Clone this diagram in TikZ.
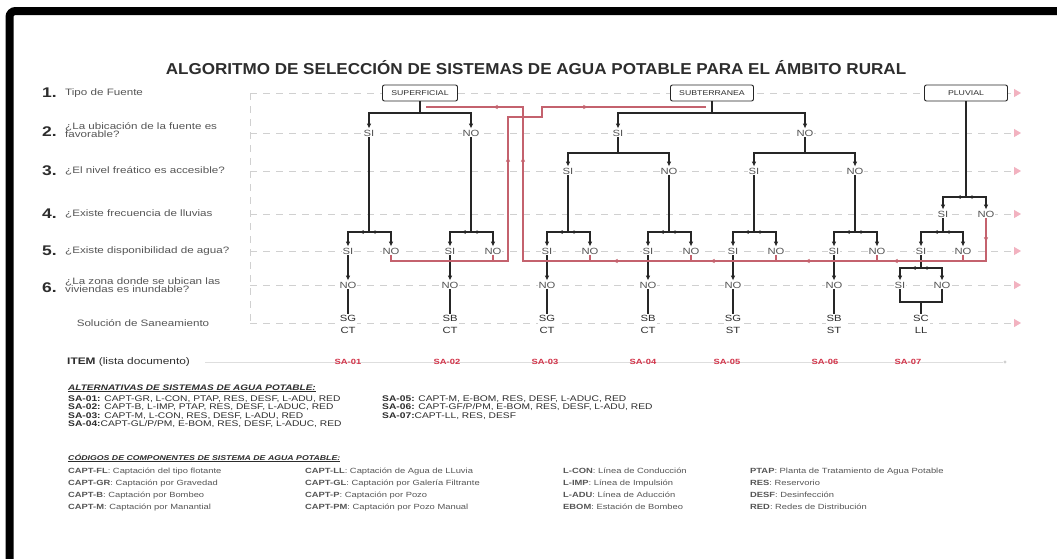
\documentclass[tikz,border=0pt]{standalone}
\usepackage{fontspec}
\setmainfont[FakeStretch=1.25]{Liberation Sans}
\newfontfamily\titlefont[FakeStretch=1.08]{Liberation Sans}
\usetikzlibrary{arrows.meta,decorations.markings}

\definecolor{guidegray}{RGB}{208,208,208}
\definecolor{guidepink}{RGB}{242,178,192}
\definecolor{loopred}{RGB}{196,98,110}
\definecolor{itemred}{RGB}{210,50,72}
\definecolor{txtdark}{RGB}{45,45,45}
\definecolor{txtsoft}{RGB}{85,85,85}

\tikzset{
  guide/.style={guidegray, line width=0.9pt, dash pattern=on 7pt off 6pt},
  guidearrow/.style={guide, -{Triangle[length=7pt,width=8pt,color=guidepink]}},
  wire/.style={black!85, line width=1.25pt},
  flow/.style={wire, -{Latex[length=5pt,width=4.5pt]}},
  midarr/.style={postaction={decorate}, decoration={markings, mark=at position 10pt with {\arrow{Latex[length=4.5pt,width=4pt]}}}},
  redloop/.style={loopred, line width=1.1pt},
  ramarks/.style={postaction={decorate}, decoration={markings,
      mark=at position 227pt with {\arrow{Latex[length=5pt,width=4.5pt]}},
      mark=at position 357pt with {\arrow{Latex[length=5pt,width=4.5pt]}}}},
  rbmarks/.style={postaction={decorate}, decoration={markings,
      mark=at position 24pt with {\arrow{Latex[length=5pt,width=4.5pt]}},
      mark=at position 136pt with {\arrow{Latex[length=5pt,width=4.5pt]}},
      mark=at position 224pt with {\arrow{Latex[length=5pt,width=4.5pt]}},
      mark=at position 319pt with {\arrow{Latex[length=5pt,width=4.5pt]}},
      mark=at position 416pt with {\arrow{Latex[length=5pt,width=4.5pt]}},
      mark=at position 610pt with {\arrow{Latex[length=5pt,width=4.5pt]}},
      mark=at position 690pt with {\arrow{Latex[length=5pt,width=4.5pt]}}}},
  fuente/.style={draw=black!85, line width=0.9pt, fill=white, rounded corners=2pt, minimum height=16pt, inner sep=1pt, font=\fontsize{7}{8}\selectfont, text=txtdark},
  opt/.style={fill=white, inner sep=1pt, font=\fontsize{9}{10}\selectfont, text=txtsoft},
  sol/.style={fill=white, inner sep=1pt, align=center, font=\fontsize{9}{12}\selectfont, text=txtdark},
  itemlbl/.style={font=\fontsize{7.5}{8}\selectfont\bfseries, text=itemred},
  num/.style={anchor=west, inner sep=0pt, font=\fontsize{14}{14}\selectfont\bfseries, text=txtdark},
  quest/.style={anchor=west, inner sep=0pt, align=left, font=\fontsize{9.3}{8.5}\selectfont, text=txtsoft},
  alttxt/.style={anchor=base west, inner sep=0pt, font=\fontsize{8.2}{9}\selectfont, text=txtdark},
  codetxt/.style={anchor=base west, inner sep=0pt, font=\fontsize{7.5}{9}\selectfont, text=txtsoft},
}

\begin{document}
\begin{tikzpicture}[x=1pt,y=-1pt]
  \pgfmathsetmacro{\rA}{93}
  \pgfmathsetmacro{\rB}{133}
  \pgfmathsetmacro{\rC}{171}
  \pgfmathsetmacro{\rD}{214}
  \pgfmathsetmacro{\rE}{251}
  \pgfmathsetmacro{\rF}{285}
  \pgfmathsetmacro{\rS}{323}

  \useasboundingbox (0,0) rectangle (1057,558);
  \fill[white] (0,0) rectangle (1057,558);
  \draw[line width=8pt, rounded corners=6pt] (9.5,600) -- (9.5,11) -- (1100,11);

  \node[font=\titlefont\fontsize{15.8}{16}\selectfont\bfseries, text=txtdark] (title) at (536,68)
    {ALGORITMO DE SELECCIÓN DE SISTEMAS DE AGUA POTABLE PARA EL ÁMBITO RURAL};

  % guide rows
  \foreach \y in {\rA,\rB,\rC,\rD,\rE,\rF,\rS}{
    \draw[guidearrow] (250,\y) -- (1021,\y);
  }
  \draw[guide] (250,\rA) -- (250,\rS);

  % questions
  \node[num] (n1) at (42,\rA) {1.};
  \node[quest] (q1) at (65,\rA) {Tipo de Fuente};
  \node[num] (n2) at (42,132) {2.};
  \node[quest] (q2) at (65,130) {¿La ubicación de la fuente es\\favorable?};
  \node[num] (n3) at (42,\rC) {3.};
  \node[quest] (q3) at (65,\rC) {¿El nivel freático es accesible?};
  \node[num] (n4) at (42,\rD) {4.};
  \node[quest] (q4) at (65,\rD) {¿Existe frecuencia de lluvias};
  \node[num] (n5) at (42,\rE) {5.};
  \node[quest] (q5) at (65,\rE) {¿Existe disponibilidad de agua?};
  \node[num] (n6) at (42,288) {6.};
  \node[quest] (q6) at (65,285) {¿La zona donde se ubican las\\viviendas es inundable?};
  \node[quest, anchor=center] (qs) at (143,\rS) {Solución de Saneamiento};

  % sources
  \node[fuente, minimum width=75pt] (sup) at (420,\rA) {SUPERFICIAL};
  \node[fuente, minimum width=83pt] (sub) at (712,\rA) {SUBTERRANEA};
  \node[fuente, minimum width=83pt] (pluv) at (966,\rA) {PLUVIAL};

  \node[opt] (s2si) at (369,\rB) {SI};
  \node[opt] (s2no) at (471,\rB) {NO};
  \node[opt] (t2si) at (618,\rB) {SI};
  \node[opt] (t2no) at (805,\rB) {NO};
  \node[opt] (t3si) at (568,\rC) {SI};
  \node[opt] (t3no) at (669,\rC) {NO};
  \node[opt] (u3si) at (754,\rC) {SI};
  \node[opt] (u3no) at (855,\rC) {NO};

  \coordinate (js) at (420,113);
  \coordinate (jt) at (712,113);
  \coordinate (jt2) at (618,153);
  \coordinate (ju) at (805,153);

  \draw[wire] (sup) -- (js);
  \draw[flow] (js) -| (s2si);
  \draw[flow] (js) -| (s2no);
  \draw[wire] (sub) -- (jt);
  \draw[flow] (jt) -| (t2si);
  \draw[flow] (jt) -| (t2no);
  \draw[wire] (t2si) -- (jt2);
  \draw[flow] (jt2) -| (t3si);
  \draw[flow] (jt2) -| (t3no);
  \draw[wire] (t2no) -- (ju);
  \draw[flow] (ju) -| (u3si);
  \draw[flow] (ju) -| (u3no);

  % rows 5 and 6, one group per solution
  \foreach \g/\x/\up/\tp/\bt in {a/348/s2si/SG/CT, b/450/s2no/SB/CT, c/547/t3si/SG/CT,
                                 d/648/t3no/SB/CT, e/733/u3si/SG/ST, f/834/u3no/SB/ST}{
    \coordinate (j\g) at (\x+21,232);
    \node[opt] (\g5si) at (\x,\rE) {SI};
    \node[opt] (\g5no) at (\x+43,\rE) {NO};
    \node[opt] (\g6) at (\x,\rF) {NO};
    \node[sol] (sol\g) at (\x,324) {\tp\\\bt};
    \draw[wire] (\up) -- (j\g);
    \draw[flow,midarr] (j\g) -| (\g5si);
    \draw[flow,midarr] (j\g) -| (\g5no);
    \draw[flow] (\g5si) -- (\g6);
    \draw[wire,line width=1.7pt] (\g6) -- (sol\g);
  }

  % pluvial
  \coordinate (jp) at (966,197);
  \node[opt] (p4si) at (943,\rD) {SI};
  \node[opt] (p4no) at (986,\rD) {NO};
  \coordinate (jp2) at (943,232);
  \node[opt] (p5si) at (921,\rE) {SI};
  \node[opt] (p5no) at (963,\rE) {NO};
  \coordinate (jp3) at (921,268);
  \node[opt] (p6si) at (900,\rF) {SI};
  \node[opt] (p6no) at (942,\rF) {NO};
  \coordinate (jp4) at (921,302);
  \node[sol] (solg) at (921,324) {SC\\LL};
  \draw[wire] (pluv) -- (jp);
  \draw[flow,midarr] (jp) -| (p4si);
  \draw[flow,midarr] (jp) -| (p4no);
  \draw[wire] (p4si) -- (jp2);
  \draw[flow,midarr] (jp2) -| (p5si);
  \draw[flow,midarr] (jp2) -| (p5no);
  \draw[wire] (p5si) -- (jp3);
  \draw[flow,midarr] (jp3) -| (p6si);
  \draw[flow,midarr] (jp3) -| (p6no);
  \draw[wire] (p6si) |- (jp4) -| (p6no);
  \draw[wire] (jp4) -- (solg);

  % red return loops
  \coordinate (ra1) at (508,261);
  \coordinate (ra2) at (508,117);
  \coordinate (ra3) at (542,117);
  \coordinate (ra4) at (542,107);
  \coordinate (ra5) at (706,107);
  \coordinate (rb1) at (986,261);
  \coordinate (rb2) at (523,261);
  \coordinate (rb3) at (523,107);
  \coordinate (rb4) at (426,107);
  \draw[redloop, ramarks] (a5no) |- (ra1) -- (ra2) -- (ra3) -- (ra4) -- (ra5);
  \draw[redloop] (b5no) |- (ra1);
  \draw[redloop, rbmarks] (p4no) -- (rb1) -- (rb2) -- (rb3) -- (rb4);
  \foreach \n in {c5no,d5no,e5no,f5no,p5no}{
    \draw[redloop] (\n) |- (rb2);
  }

  % items
  \node[anchor=west, inner sep=0pt, font=\fontsize{9.5}{10}\selectfont, text=txtdark] (itemhd) at (67,362)
    {\textbf{ITEM} (lista documento)};
  \draw[guidegray!70, line width=0.7pt] (205,362) -- (1003,362);
  \fill[guidegray] (1005,362) circle (1.6);
  \foreach \n/\x in {1/348, 2/447, 3/545, 4/643, 5/727, 6/825, 7/908}{
    \node[itemlbl] (sa\n) at (\x,362) {SA-0\n};
  }

  % alternatives
  \node[alttxt, font=\fontsize{8}{9}\selectfont] (althd) at (68,390)
    {\underline{\textbf{\textit{ALTERNATIVAS DE SISTEMAS DE AGUA POTABLE:}}}};
  \node[alttxt] (alt1) at (68,401) {\textbf{SA-01:} CAPT-GR, L-CON, PTAP, RES, DESF, L-ADU, RED};
  \node[alttxt] (alt2) at (68,409.5) {\textbf{SA-02:} CAPT-B, L-IMP, PTAP, RES, DESF, L-ADUC, RED};
  \node[alttxt] (alt3) at (68,418) {\textbf{SA-03:} CAPT-M, L-CON, RES, DESF, L-ADU, RED};
  \node[alttxt] (alt4) at (68,426.5) {\textbf{SA-04:}CAPT-GL/P/PM, E-BOM, RES, DESF, L-ADUC, RED};
  \node[alttxt] (alt5) at (382,401) {\textbf{SA-05:} CAPT-M, E-BOM, RES, DESF, L-ADUC, RED};
  \node[alttxt] (alt6) at (382,409.5) {\textbf{SA-06:} CAPT-GF/P/PM, E-BOM, RES, DESF, L-ADU, RED};
  \node[alttxt] (alt7) at (382,418) {\textbf{SA-07:}CAPT-LL, RES, DESF};

  % component codes
  \node[codetxt, font=\fontsize{7}{8}\selectfont, text=txtdark] (codhd) at (68,460)
    {\underline{\textbf{\textit{CÓDIGOS DE COMPONENTES DE SISTEMA DE AGUA POTABLE:}}}};
  \node[codetxt] (cfl) at (68,473) {\textbf{CAPT-FL}: Captación del tipo flotante};
  \node[codetxt] (cgr) at (68,485) {\textbf{CAPT-GR}: Captación por Gravedad};
  \node[codetxt] (cb) at (68,497) {\textbf{CAPT-B}: Captación por Bombeo};
  \node[codetxt] (cm) at (68,509) {\textbf{CAPT-M}: Captación por Manantial};
  \node[codetxt] (cll) at (305,473) {\textbf{CAPT-LL}: Captación de Agua de LLuvia};
  \node[codetxt] (cgl) at (305,485) {\textbf{CAPT-GL}: Captación por Galería Filtrante};
  \node[codetxt] (cp) at (305,497) {\textbf{CAPT-P}: Captación por Pozo};
  \node[codetxt] (cpm) at (305,509) {\textbf{CAPT-PM}: Captación por Pozo Manual};
  \node[codetxt] (lcon) at (563,473) {\textbf{L-CON}: Línea de Conducción};
  \node[codetxt] (limp) at (563,485) {\textbf{L-IMP}: Línea de Impulsión};
  \node[codetxt] (ladu) at (563,497) {\textbf{L-ADU}: Línea de Aducción};
  \node[codetxt] (ebom) at (563,509) {\textbf{EBOM}: Estación de Bombeo};
  \node[codetxt] (ptap) at (750,473) {\textbf{PTAP}: Planta de Tratamiento de Agua Potable};
  \node[codetxt] (res) at (750,485) {\textbf{RES}: Reservorio};
  \node[codetxt] (desf) at (750,497) {\textbf{DESF}: Desinfección};
  \node[codetxt] (red) at (750,509) {\textbf{RED}: Redes de Distribución};
\end{tikzpicture}
\end{document}
